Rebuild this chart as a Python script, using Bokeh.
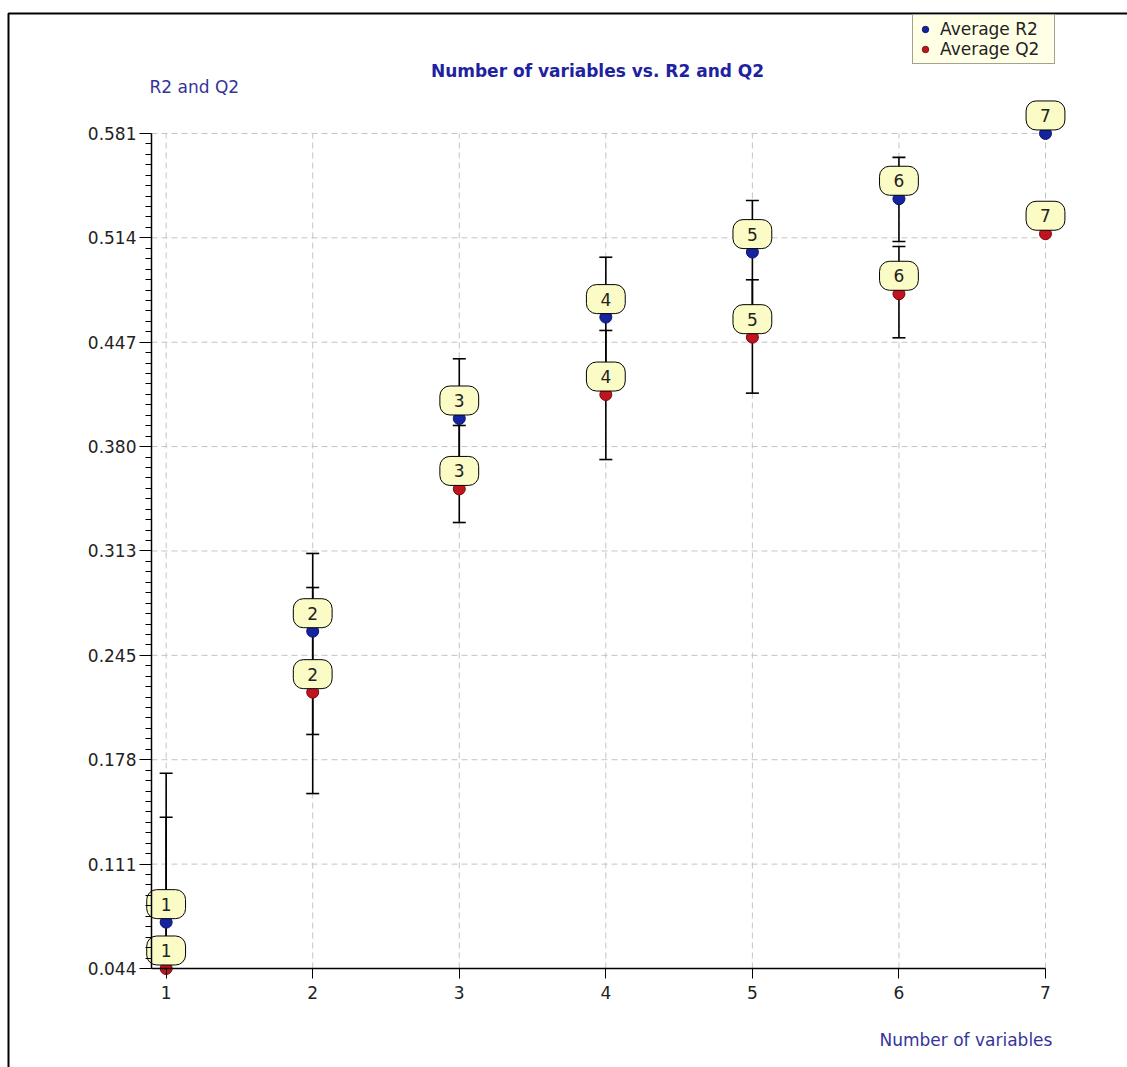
import numpy as np
from bokeh.plotting import figure
from bokeh.models import (ColumnDataSource, Range1d, FixedTicker, Label, Legend,
                          LegendItem, BoxAnnotation, Node)
from bokeh.core.properties import value
from bokeh.embed import file_html
from bokeh.resources import INLINE

# ---------------- data ----------------
n_vars = [1, 2, 3, 4, 5, 6, 7]
r2_mean = [0.0738, 0.2609, 0.3977, 0.4629, 0.5047, 0.5390, 0.5810]
r2_lower = [0.0063, 0.1945, 0.3591, 0.4243, 0.4697, 0.5115, 0.5810]
r2_upper = [0.1413, 0.3109, 0.4361, 0.5014, 0.5379, 0.5656, 0.5810]
q2_mean = [0.0440, 0.2217, 0.3524, 0.4131, 0.4500, 0.4779, 0.5165]
q2_lower = [-0.0816, 0.1565, 0.3308, 0.3713, 0.4140, 0.4496, 0.5165]
q2_upper = [0.1696, 0.2890, 0.3932, 0.4543, 0.4869, 0.5083, 0.5165]
x_ticks = [1, 2, 3, 4, 5, 6, 7]
x_tick_labels = ["1", "2", "3", "4", "5", "6", "7"]
y_ticks = [0.044, 0.111125, 0.17825, 0.245375, 0.3125, 0.379625, 0.44675, 0.513875, 0.581]
y_tick_labels = ["0.044", "0.111", "0.178", "0.245", "0.313", "0.380", "0.447", "0.514", "0.581"]

series_names = ["Average R2", "Average Q2"]
title_text = "Number of variables vs. R2 and Q2"
y_title = "R2 and Q2"
x_title = "Number of variables"

FONT = "DejaVu Sans"
W, H = 1127, 1067
x_min, x_max = 0.9, 7
y_min, y_max = y_ticks[0], y_ticks[-1]

# the plotting frame covers the whole canvas; axes sit at fixed locations
p = figure(width=W, height=H,
           x_range=Range1d(-0.1303, 7.5595), y_range=Range1d(-0.01967, 0.6665),
           output_backend="svg", toolbar_location=None,
           min_border=0, min_border_left=0, min_border_right=0,
           min_border_top=0, min_border_bottom=0,
           outline_line_color=None,
           background_fill_color="white", border_fill_color="white")
p.xgrid.visible = False
p.ygrid.visible = False

# ---------------- grid (dashed, limited to the axes' extent) ----------------
GRID = dict(line_color="#c4c4c4", line_dash="6 4", line_width=1)
p.segment(x0=[x_min] * len(y_ticks), y0=y_ticks, x1=[x_max] * len(y_ticks), y1=y_ticks, **GRID)
p.segment(x0=x_ticks, y0=[y_min] * len(x_ticks), x1=x_ticks, y1=[y_max] * len(x_ticks), **GRID)

# ---------------- axes ----------------
xa = p.xaxis[0]
xa.ticker = FixedTicker(ticks=x_ticks)
xa.major_label_overrides = {t: l for t, l in zip(x_ticks, x_tick_labels)}
xa.bounds = (x_min, x_max)
xa.fixed_location = y_min
xa.axis_line_color = "black"
xa.axis_line_width = 1.5
xa.major_tick_out = 10
xa.major_tick_in = 0
xa.minor_tick_out = 0
xa.minor_tick_in = 0
xa.major_tick_line_color = "black"
xa.major_label_standoff = 8
xa.major_label_text_font = FONT
xa.major_label_text_font_size = "17px"
xa.major_label_text_color = "#222222"

minors = []
for a, b in zip(y_ticks[:-1], y_ticks[1:]):
    minors.extend(list(np.linspace(a, b, 11)[1:-1]))
ya = p.yaxis[0]
ya.ticker = FixedTicker(ticks=y_ticks, minor_ticks=minors)
ya.major_label_overrides = {t: l for t, l in zip(y_ticks, y_tick_labels)}
ya.bounds = (y_min, y_max)
ya.fixed_location = x_min
ya.axis_line_color = "black"
ya.axis_line_width = 1.5
ya.major_tick_out = 12
ya.major_tick_in = 0
ya.minor_tick_out = 6
ya.minor_tick_in = 0
ya.major_tick_line_color = "black"
ya.minor_tick_line_color = "black"
ya.major_label_standoff = 3
ya.major_label_text_font = FONT
ya.major_label_text_font_size = "17px"
ya.major_label_text_color = "#222222"

# ---------------- glyphs ----------------
def make_sources(mean, lower, upper):
    lo_draw = [max(l, y_min) for l in lower]
    bars = ColumnDataSource(dict(x=n_vars, lo=lo_draw, hi=upper))
    cx, cy = [], []
    for x, l, u in zip(n_vars, lower, upper):
        if u > l:
            cx.append(x); cy.append(u)
            if l >= y_min:
                cx.append(x); cy.append(l)
    caps = ColumnDataSource(dict(x=cx, y=cy))
    pts = ColumnDataSource(dict(x=n_vars, y=mean, lab=[str(n) for n in n_vars]))
    return bars, caps, pts

series = [
    (r2_mean, r2_lower, r2_upper, "#14249e", "#0a1570"),
    (q2_mean, q2_lower, q2_upper, "#c0141e", "#7a0a10"),
]
srcs = [make_sources(m, lo, hi) for m, lo, hi, _, _ in series]

for bars, caps, _ in srcs:
    p.segment(x0="x", y0="lo", x1="x", y1="hi", source=bars,
              line_color="black", line_width=1.6)
    p.scatter(x="x", y="y", source=caps, marker="dash", size=13,
              line_color="black", line_width=1.6)

dot_renderers = []
for (bars, caps, pts), (_, _, _, fc, lc) in zip(srcs, series):
    r = p.scatter(x="x", y="y", source=pts, marker="circle", size=12,
                  fill_color=fc, line_color=lc, line_width=1)
    dot_renderers.append(r)

for bars, caps, pts in srcs:
    p.text(x="x", y="y", text="lab", source=pts, y_offset=-18,
           text_align="center", text_baseline="middle",
           text_font=value(FONT), text_font_size="17px", text_color="#222222",
           background_fill_color="#fbfbc6", border_line_color="black",
           border_line_width=1,
           padding=dict(left=14, right=14, top=8, bottom=8),
           border_radius=10)

# ---------------- legend ----------------
legend = Legend(items=[LegendItem(label=series_names[0], renderers=[dot_renderers[0]]),
                       LegendItem(label=series_names[1], renderers=[dot_renderers[1]])],
                location=(912, H - 64), orientation="vertical",
                padding=4, spacing=0, margin=0,
                glyph_width=16, glyph_height=20, label_height=20, label_standoff=7,
                label_width=110,
                label_text_font=FONT, label_text_font_size="17px",
                label_text_color="#222222",
                background_fill_color="#ffffe6", background_fill_alpha=1,
                border_line_color="#444444", border_line_width=1)
p.add_layout(legend)

# ---------------- texts ----------------
p.add_layout(Label(x=597, y=H - 70, x_units="screen", y_units="screen",
                   text=title_text, text_align="center", text_baseline="middle",
                   text_font=FONT, text_font_size="17px", text_font_style="bold",
                   text_color="#1e22a0"))
p.add_layout(Label(x=149, y=H - 86, x_units="screen", y_units="screen",
                   text=y_title, text_align="left", text_baseline="middle",
                   text_font=FONT, text_font_size="17px", text_color="#34349c"))
p.add_layout(Label(x=879, y=H - 1039, x_units="screen", y_units="screen",
                   text=x_title, text_align="left", text_baseline="middle",
                   text_font=FONT, text_font_size="17px", text_color="#34349c"))

# outer window frame (top and left edges)
p.add_layout(BoxAnnotation(left=Node(target="canvas", symbol="left", offset=8),
                           top=Node(target="canvas", symbol="top", offset=13),
                           right=Node(target="canvas", symbol="right", offset=10),
                           bottom=Node(target="canvas", symbol="bottom", offset=10),
                           fill_alpha=0, line_color="black", line_alpha=1,
                           line_width=2, level="overlay"))

open("out.html", "w").write(file_html(p, INLINE))
